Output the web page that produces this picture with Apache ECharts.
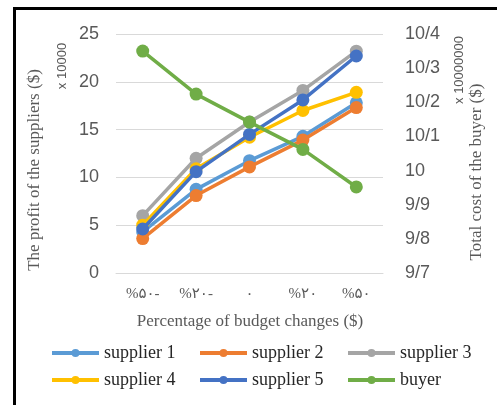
<!DOCTYPE html>
<html>
<head>
<meta charset="utf-8">
<script src="https://cdn.jsdelivr.net/npm/echarts@6/dist/echarts.min.js"></script>
<style>html,body{margin:0;padding:0;background:#fff;}#c{width:497px;height:405px;}</style>
</head>
<body>
<div id="c"></div>
<script>
var categories = ['%۵۰-', '%۲۰-', '۰', '%۲۰', '%۵۰'];
var supplier1 = [4.3, 8.75, 11.75, 14.3, 17.8];
var supplier2 = [3.6, 8.1, 11.1, 13.9, 17.3];
var supplier3 = [6.0, 12.0, 15.8, 19.1, 23.2];
var supplier4 = [5.0, 10.9, 14.2, 17.0, 18.9];
var supplier5 = [4.6, 10.6, 14.5, 18.1, 22.7];
var buyer = [10.35, 10.224, 10.142, 10.062, 9.952];
var leftTicks = { min: 0, max: 25, interval: 5 };
var rightTicks = { min: 9.7, max: 10.4, interval: 0.1 };

var colors = ['#5B9BD5', '#ED7D31', '#A5A5A5', '#FFC000', '#4472C4', '#70AD47'];
var names = ['supplier 1', 'supplier 2', 'supplier 3', 'supplier 4', 'supplier 5', 'buyer'];
var datas = [supplier1, supplier2, supplier3, supplier4, supplier5, buyer];

var serif = '"Liberation Serif", "Times New Roman", "DejaVu Serif", serif';
var sans = '"Liberation Sans", Arial, sans-serif';

var series = names.map(function (n, i) {
  return {
    name: n, type: 'line', data: datas[i],
    yAxisIndex: i === 5 ? 1 : 0,
    symbol: 'circle', symbolSize: 13,
    lineStyle: { width: 3.5, color: colors[i] },
    itemStyle: { color: colors[i] },
    z: 2 + i
  };
});

var legendLefts = [50, 198, 346];
var legendTops = [344, 371];
var legends = names.map(function (n, i) {
  return {
    data: [n], left: legendLefts[i % 3], top: legendTops[Math.floor(i / 3)],
    itemGap: 0, itemWidth: 47, itemHeight: 10, padding: 0,
    lineStyle: { width: 4 },
    textStyle: { fontFamily: serif, fontSize: 18, color: '#262626' },
    selectedMode: false
  };
});

var chart = echarts.init(document.getElementById('c'));
chart.setOption({
  animation: false,
  color: colors,
  grid: { left: 116, right: 114, top: 34, bottom: 132, containLabel: false },
  xAxis: {
    type: 'category', data: categories, boundaryGap: true,
    axisLine: { show: true, lineStyle: { color: '#d9d9d9', width: 1 } },
    axisTick: { show: false },
    axisLabel: { fontFamily: '"Liberation Serif", "DejaVu Sans", serif', fontSize: 15, color: '#595959', margin: 14 }
  },
  yAxis: [
    {
      type: 'value', min: leftTicks.min, max: leftTicks.max, interval: leftTicks.interval,
      axisLine: { show: false }, axisTick: { show: false },
      splitLine: { lineStyle: { color: '#d9d9d9', width: 1 } },
      axisLabel: { fontFamily: sans, fontSize: 18, color: '#595959', margin: 17 }
    },
    {
      type: 'value', min: rightTicks.min, max: rightTicks.max, interval: rightTicks.interval,
      axisLine: { show: false }, axisTick: { show: false }, splitLine: { show: false },
      axisLabel: {
        fontFamily: sans, fontSize: 18, color: '#595959', margin: 22,
        formatter: function (v) {
          var s = (Math.round(v * 10) / 10).toString();
          return s.replace('.', '/');
        }
      }
    }
  ],
  legend: legends,
  graphic: [
    { type: 'rect', shape: { x: 14.5, y: 8.5, width: 500, height: 420 }, style: { fill: 'none', stroke: '#000', lineWidth: 3 }, silent: true },
    { type: 'text', x: 35, y: 170, rotation: Math.PI / 2, style: { text: 'The profit of the suppliers ($)', font: '17px ' + serif, fill: '#595959', align: 'center', verticalAlign: 'middle' } },
    { type: 'text', x: 62, y: 66, rotation: Math.PI / 2, style: { text: 'x 10000', font: '13px ' + sans, fill: '#595959', align: 'center', verticalAlign: 'middle' } },
    { type: 'text', x: 477, y: 172, rotation: Math.PI / 2, style: { text: 'Total cost of the buyer ($)', font: '17px ' + serif, fill: '#595959', align: 'center', verticalAlign: 'middle' } },
    { type: 'text', x: 459, y: 70, rotation: Math.PI / 2, style: { text: 'x 10000000', font: '13px ' + sans, fill: '#595959', align: 'center', verticalAlign: 'middle' } },
    { type: 'text', x: 250, y: 322, style: { text: 'Percentage of budget changes ($)', font: '17px ' + serif, fill: '#595959', align: 'center', verticalAlign: 'middle' } }
  ],
  series: series
});
</script>
</body>
</html>
